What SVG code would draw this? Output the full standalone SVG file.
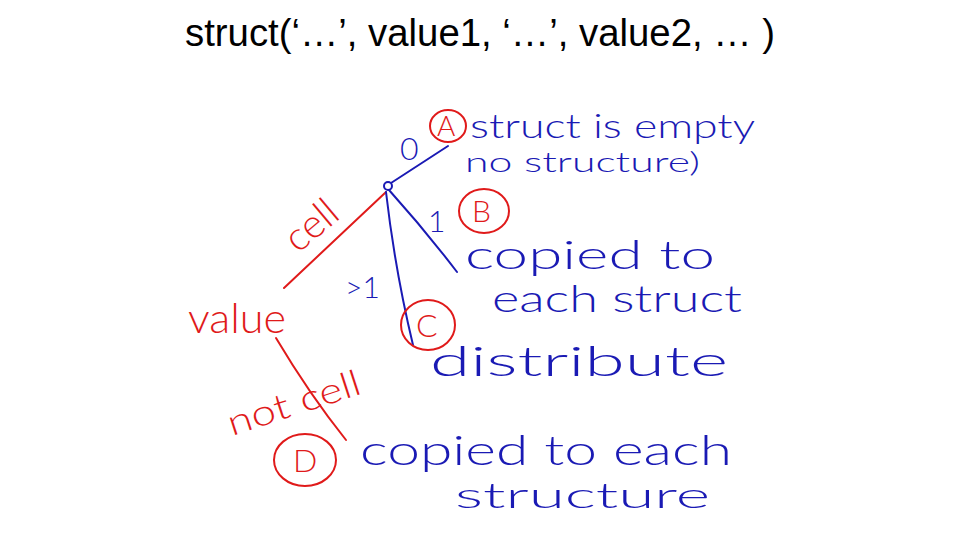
<svg xmlns="http://www.w3.org/2000/svg" width="960" height="540" viewBox="0 0 960 540">
<style>
.title{font-family:"Liberation Sans","DejaVu Sans",sans-serif;font-size:38px;fill:#000}
.hb{font-family:"Lato","Open Sans",sans-serif;font-weight:300;fill:#1a1ab4}
.hr{font-family:"Lato","Open Sans",sans-serif;font-weight:300;fill:#e01a1a}
.lb{fill:none;stroke:#1a1ab4;stroke-width:2;stroke-linecap:round}
.lr{fill:none;stroke:#e01a1a;stroke-width:2;stroke-linecap:round}
</style>
<rect width="960" height="540" fill="#fff"/>
<text class="title" x="185" y="46" textLength="590" lengthAdjust="spacingAndGlyphs">struct(‘…’, value1, ‘…’, value2, … )</text>
<g id="connectors">
<path class="lb" d="M391,183 L448,146"/>
<path class="lr" d="M386,192 L284,288"/>
<path class="lb" d="M389,190 Q425,230 457,272"/>
<path class="lb" d="M386,192 Q395,270 413,345"/>
<path class="lr" d="M276,338 Q310,395 346,440"/>
</g>
<g id="root"><circle cx="388" cy="186" r="4" fill="#fff" stroke="#1a1ab4" stroke-width="2"/></g>
<g id="nodeA">
<text class="hb" x="400" y="160" font-size="32">0</text>
<ellipse class="lr" cx="448" cy="126" rx="18" ry="16"/>
<text class="hr" x="437" y="136" font-size="28">A</text>
<text class="hb" x="470" y="138" font-size="33" textLength="285" lengthAdjust="spacingAndGlyphs">struct is empty</text>
<text class="hb" x="465" y="172" font-size="28" textLength="235" lengthAdjust="spacingAndGlyphs">no structure)</text>
</g>
<g id="nodeB">
<text class="hb" x="428" y="232" font-size="30">1</text>
<ellipse class="lr" cx="484" cy="211" rx="25" ry="22"/>
<text class="hr" x="472" y="222" font-size="30">B</text>
<text class="hb" x="465" y="269" font-size="40" textLength="250" lengthAdjust="spacingAndGlyphs">copied to</text>
<text class="hb" x="492" y="312" font-size="38" textLength="250" lengthAdjust="spacingAndGlyphs">each struct</text>
</g>
<g id="nodeC">
<text class="hb" x="345" y="298" font-size="30">&gt;1</text>
<ellipse class="lr" cx="428" cy="325" rx="27" ry="25"/>
<text class="hr" x="416" y="337" font-size="32">C</text>
<text class="hb" x="430" y="376" font-size="42" textLength="298" lengthAdjust="spacingAndGlyphs">distribute</text>
</g>
<g id="value">
<text class="hr" x="188" y="333" font-size="42" textLength="98" lengthAdjust="spacingAndGlyphs">value</text>
<text class="hr" x="0" y="0" font-size="40" transform="translate(298,254) rotate(-40)">cell</text>
</g>
<g id="nodeD">
<text class="hr" x="0" y="0" font-size="36" transform="translate(232,436) rotate(-18)" textLength="138" lengthAdjust="spacingAndGlyphs">not cell</text>
<ellipse class="lr" cx="305" cy="460" rx="31" ry="26"/>
<text class="hr" x="293" y="472" font-size="32">D</text>
<text class="hb" x="360" y="465" font-size="42" textLength="372" lengthAdjust="spacingAndGlyphs">copied to each</text>
<text class="hb" x="455" y="508" font-size="36" textLength="255" lengthAdjust="spacingAndGlyphs">structure</text>
</g>
</svg>
